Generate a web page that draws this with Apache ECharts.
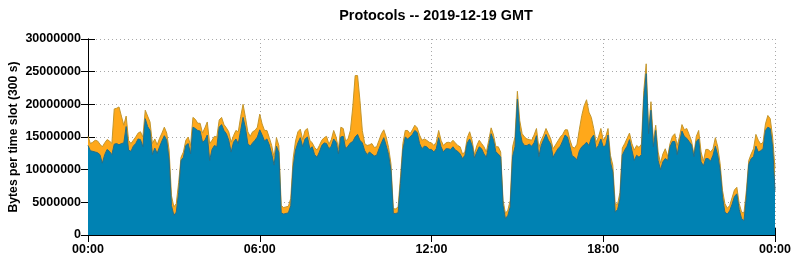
<!DOCTYPE html>
<html>
<head>
<meta charset="utf-8">
<script src="https://cdn.jsdelivr.net/npm/echarts@6/dist/echarts.min.js"></script>
<style>
html,body{margin:0;padding:0;background:#fff}
#c{width:795px;height:260px}
</style>
</head>
<body>
<div id="c"></div>
<script>
// 5-minute slots (300 s), values in millions of bytes
const slotMinutes = 5;
const xTickLabels = ['00:00', '06:00', '12:00', '18:00', '00:00'];
const titleText = 'Protocols -- 2019-12-19 GMT';
const yAxisTitle = 'Bytes per time slot (300 s)';

// top of stack (all protocols)
const totalTop = [
15.1,14.0,14.2,14.5,14.4,13.9,13.5,14.1,14.6,14.4,14.0,19.3,
19.4,19.6,18.2,16.8,18.2,14.5,14.0,14.5,15.0,15.6,15.8,15.0,
19.1,18.2,17.3,14.0,14.7,13.8,14.8,15.6,16.5,15.6,13.0,6.0,
4.3,4.8,8.0,11.9,12.7,14.5,15.0,13.7,18.0,17.7,17.1,17.1,
15.6,16.4,17.3,14.0,14.5,15.1,15.0,17.6,18.0,16.9,16.4,15.8,
14.2,15.2,16.0,15.8,18.1,20.0,18.0,15.8,15.1,15.8,16.0,16.5,
18.5,17.0,16.0,16.0,14.9,13.7,11.9,14.9,13.7,4.5,4.2,4.3,
4.4,5.6,11.7,14.4,15.8,16.2,14.6,16.0,16.3,14.5,14.1,13.4,
13.0,13.7,14.5,14.9,15.1,13.9,14.6,16.0,15.0,13.2,16.5,16.3,
14.4,14.7,16.0,19.6,24.4,24.4,20.6,16.0,14.0,13.7,13.8,14.0,
13.4,13.5,14.5,15.5,16.1,15.0,13.4,10.9,4.0,4.0,4.3,8.9,
14.0,16.0,16.0,15.5,16.1,16.8,16.4,15.3,14.5,14.7,14.5,14.2,
14.1,13.7,14.2,16.0,14.5,13.7,14.1,14.2,14.1,14.5,14.1,13.7,
13.5,12.4,12.7,14.9,15.8,14.5,12.3,13.7,14.5,14.0,13.5,12.7,
14.5,16.4,15.3,13.5,13.5,12.7,5.3,3.3,3.8,5.3,13.5,15.0,
22.0,17.5,15.5,15.0,14.7,14.6,14.5,15.3,16.3,13.4,14.5,15.3,
16.3,15.5,14.7,13.2,13.8,14.4,15.0,15.4,16.1,16.1,14.6,13.5,
13.3,13.9,16.2,18.3,19.8,20.7,18.8,18.0,16.3,14.2,15.0,16.3,
14.5,15.0,16.3,12.2,10.7,4.8,4.7,6.5,13.3,14.0,14.8,15.6,
14.0,13.0,13.7,13.4,13.9,22.1,26.2,16.0,20.4,14.5,16.8,12.7,
11.0,12.4,13.2,12.0,14.0,15.1,15.5,13.7,15.1,16.9,16.1,16.3,
15.4,14.4,12.4,15.1,16.0,12.7,11.3,13.1,13.1,12.7,13.2,14.9,
13.5,10.9,6.8,4.8,4.1,4.5,5.7,6.9,7.3,4.8,3.5,3.4,
6.8,11.4,12.4,13.2,15.4,14.5,13.9,14.2,17.0,18.3,17.8,15.0,
10.2
];

// bottom layer (blue protocol)
const blueLayer = [
13.7,12.9,12.8,12.7,12.6,12.3,11.0,12.3,13.1,12.8,12.3,13.9,
14.0,13.8,14.0,14.1,16.6,13.0,12.8,13.6,14.0,14.7,14.6,13.5,
17.8,16.6,16.0,12.3,13.3,12.5,13.5,14.4,15.2,14.5,11.5,4.5,
3.0,3.5,6.5,11.4,11.9,13.7,14.0,12.4,16.5,16.3,16.0,15.9,
14.2,14.5,15.3,11.4,13.1,13.7,13.5,16.5,16.9,16.0,15.5,14.5,
12.7,14.2,14.7,14.0,16.0,18.0,16.4,14.0,13.6,14.1,14.5,15.0,
16.1,15.3,14.4,14.7,13.8,12.4,10.7,13.6,12.6,3.4,3.2,3.3,
3.4,4.5,10.4,13.0,14.1,14.9,13.5,14.7,15.0,13.2,13.5,12.3,
11.9,12.7,13.7,14.1,14.0,13.2,13.6,14.7,14.2,12.4,15.0,15.1,
13.2,13.6,14.1,14.3,15.0,15.4,14.5,14.1,12.9,12.3,12.7,12.4,
12.1,12.2,13.2,14.1,14.9,13.7,12.3,9.9,3.3,3.3,3.4,7.9,
13.0,15.0,14.7,15.0,15.4,16.0,15.7,14.0,13.2,13.6,13.5,13.1,
13.1,12.7,13.2,14.9,13.5,12.7,13.2,13.2,13.1,13.5,13.0,12.8,
12.4,11.7,12.2,14.1,14.7,13.7,11.8,12.7,13.5,13.2,12.4,11.9,
13.7,15.5,14.5,12.7,12.4,11.9,4.5,2.5,3.0,4.3,12.0,13.5,
20.8,16.0,14.2,13.7,13.7,13.9,13.6,14.1,15.2,12.0,13.7,14.6,
15.4,14.5,13.9,11.9,12.6,13.2,13.6,14.4,15.3,15.0,13.6,12.1,
11.9,11.5,12.9,13.5,13.8,14.2,13.7,14.8,15.3,13.2,13.7,14.7,
13.5,13.7,15.3,11.2,9.6,3.5,3.9,5.5,12.2,13.0,13.6,14.6,
13.0,11.4,12.2,11.9,12.3,20.9,24.7,15.5,19.1,13.5,16.0,11.4,
10.0,11.2,11.7,11.4,13.5,14.3,14.3,12.3,14.3,15.9,15.1,14.8,
14.3,13.8,12.0,14.3,14.7,11.2,10.6,11.7,11.7,11.3,12.2,13.6,
12.2,9.9,5.8,3.5,3.2,3.7,4.7,5.9,6.3,3.9,2.5,2.2,
5.8,10.8,11.7,12.0,13.6,12.7,12.9,13.2,16.0,16.5,16.3,13.5,
6.8
];

const toPoints = arr => arr.map((v, i) => [i * slotMinutes, v]);

const fontFam = '"Liberation Sans", Arial, Helvetica, sans-serif';
const chart = echarts.init(document.getElementById('c'), null, {renderer: 'canvas'});

const gridLine = {show: true, lineStyle: {color: '#a8a8a8', width: 1, type: [1, 3]}};
const tickStyle = {show: true, inside: true, length: 7, lineStyle: {color: '#000', width: 1}};
const axisLine = {show: true, lineStyle: {color: '#000', width: 1}};

chart.setOption({
  animation: false,
  backgroundColor: '#fff',
  title: {
    text: titleText,
    left: 431,
    top: 4,
    textAlign: 'center',
    textStyle: {fontFamily: fontFam, fontWeight: 'bold', fontSize: 14.4, color: '#000'}
  },
  grid: {left: 88, top: 39, width: 687, height: 196, containLabel: false, outerBoundsMode: 'none'},
  xAxis: [{
    type: 'value', min: 0, max: 1440, interval: 360, position: 'bottom',
    axisLine: axisLine, axisTick: tickStyle, splitLine: gridLine,
    axisLabel: {
      formatter: v => xTickLabels[Math.round(v / 360)],
      fontFamily: fontFam, fontWeight: 'bold', fontSize: 12.5, color: '#000', margin: 8
    }
  }, {
    type: 'value', min: 0, max: 1440, interval: 360, position: 'top',
    axisLine: axisLine, axisTick: tickStyle, splitLine: {show: false},
    axisLabel: {show: false}
  }],
  yAxis: [{
    type: 'value', min: 0, max: 30, interval: 5, position: 'left',
    name: yAxisTitle, nameLocation: 'middle', nameRotate: 90, nameGap: 68,
    nameMoveOverlap: false,
    nameTextStyle: {fontFamily: fontFam, fontWeight: 'bold', fontSize: 12.2, color: '#000'},
    axisLine: axisLine, axisTick: tickStyle, splitLine: gridLine,
    axisLabel: {
      formatter: v => String(Math.round(v * 1000000)),
      fontFamily: fontFam, fontWeight: 'bold', fontSize: 12.5, color: '#000', margin: 7
    }
  }, {
    type: 'value', min: 0, max: 30, interval: 5, position: 'right',
    axisLine: axisLine, axisTick: tickStyle, splitLine: {show: false},
    axisLabel: {show: false}
  }],
  series: [{
    name: 'total',
    type: 'line',
    data: toPoints(totalTop),
    showSymbol: false, symbol: 'none',
    lineStyle: {color: '#c3962c', width: 1},
    areaStyle: {color: '#ffa81a', opacity: 1},
    z: 2
  }, {
    name: 'blue',
    type: 'line',
    data: toPoints(blueLayer),
    showSymbol: false, symbol: 'none',
    lineStyle: {color: '#236e8a', width: 1},
    areaStyle: {color: '#0082b3', opacity: 1},
    z: 3
  }]
});
</script>
</body>
</html>
